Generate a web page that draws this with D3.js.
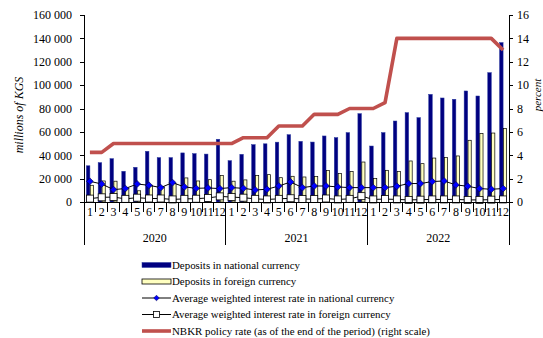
<!DOCTYPE html>
<html lang="en">
<head>
  <meta charset="UTF-8">
  <title>Deposits and interest rates</title>
  <script src="https://d3js.org/d3.v7.min.js"></script>
  <style>
  body { margin: 0; background: #fff; }
  text { font-family: "Liberation Serif", "Times New Roman", serif; fill: #000; }
  .axis path, .axis line { fill: none; stroke: #000; shape-rendering: crispEdges; }
  .axis text { font-size: 12px; }
  .legend text { font-size: 10.9px; }
  </style>
</head>
<body>
  <div class="container"></div>
  <script>
  // data
  var years = ["2020", "2021", "2022"];
  var months = ["1","2","3","4","5","6","7","8","9","10","11","12"];
  var depNational = [31000,33700,37100,26300,29700,43400,38000,38000,42000,41400,41000,53700,
                     35400,40800,49100,49800,51200,57600,51900,51300,56500,55100,59400,75600,
                     47900,59400,69300,76500,72200,92100,89000,87900,95000,90700,110700,136400];
  var depForeign  = [14300,18000,17800,11700,9600,14300,13000,15700,20600,18000,19100,22800,
                     17800,18900,22700,23400,20800,22000,21400,21700,26900,24300,26000,34200,
                     20000,27100,26000,35100,32800,37600,38000,39400,52800,58500,59000,62800];
  var rateNational = [1.77,1.54,1.06,1.15,1.54,1.43,1.23,1.66,1.29,1.17,1.2,1.15,
                      1.23,1.17,1.03,1.09,1.37,1.71,1.23,1.37,1.37,1.29,1.23,1.23,
                      1.23,1.23,1.35,1.58,1.58,1.75,1.8,1.46,1.35,1.15,1.09,1.15];
  var rateForeign = [0.29,0.4,0.42,0.27,0.37,0.3,0.3,0.22,0.27,0.28,0.35,0.48,
                     0.42,0.37,0.27,0.22,0.27,0.32,0.25,0.25,0.3,0.22,0.27,0.5,
                     0.22,0.25,0.22,0.18,0.2,0.22,0.22,0.22,0.18,0.18,0.2,0.22];
  var policyRate = [4.25,4.25,5,5,5,5,5,5,5,5,5,5,
                    5,5.5,5.5,5.5,6.5,6.5,6.5,7.5,7.5,7.5,8,8,
                    8,8.5,14,14,14,14,14,14,14,14,14,13];
  var leftTicks = [0,20000,40000,60000,80000,100000,120000,140000,160000];
  var rightTicks = [0,2,4,6,8,10,12,14,16];
  var legendLabels = ["Deposits in national currency",
                      "Deposits in foreign currency",
                      "Average weighted interest rate in national currency",
                      "Average weighted interest rate in foreign currency",
                      "NBKR policy rate (as of the end of the period) (right scale)"];

  var w = 543, h = 338,
      margin = {top: 15, right: 34, bottom: 136, left: 84};
  var g_w = w - margin.left - margin.right;
  var g_h = h - margin.top - margin.bottom;

  var idx = d3.range(depNational.length);
  var xScale = d3.scaleBand().domain(idx).range([0, g_w]);
  var yLeft = d3.scaleLinear().domain([0, 160000]).range([g_h, 0]);
  var yRight = d3.scaleLinear().domain([0, 16]).range([g_h, 0]);
  var bw = xScale.bandwidth();
  var cx = function(i){ return xScale(i) + bw / 2; };

  var svg = d3.select('.container').append('svg')
      .attr('width', w).attr('height', h);
  var g = svg.append('g')
      .attr('transform', 'translate(' + margin.left + ',' + margin.top + ')');

  // bars
  g.selectAll('.nat').data(depNational).enter().append('rect')
      .attr('x', function(d, i){ return xScale(i) + bw * 0.2; })
      .attr('y', function(d){ return yLeft(d); })
      .attr('width', bw * 0.3)
      .attr('height', function(d){ return g_h - yLeft(d); })
      .attr('fill', '#000080').attr('stroke', '#2a3aa0').attr('stroke-width', 0.5);
  g.selectAll('.for').data(depForeign).enter().append('rect')
      .attr('x', function(d, i){ return xScale(i) + bw * 0.53; })
      .attr('y', function(d){ return yLeft(d); })
      .attr('width', bw * 0.27)
      .attr('height', function(d){ return g_h - yLeft(d); })
      .attr('fill', '#ffffc0').attr('stroke', '#000').attr('stroke-width', 0.7);

  // rate lines
  var lineR = d3.line().x(function(d, i){ return cx(i); }).y(function(d){ return yRight(d); });
  g.append('path').attr('d', lineR(rateNational))
      .attr('fill', 'none').attr('stroke', '#000').attr('stroke-width', 1);
  g.selectAll('.dia').data(rateNational).enter().append('path')
      .attr('d', d3.symbol().type(d3.symbolDiamond2).size(30))
      .attr('transform', function(d, i){ return 'translate(' + cx(i) + ',' + yRight(d) + ')'; })
      .attr('fill', '#0000ff').attr('stroke', '#000040').attr('stroke-width', 0.6);

  g.append('path').attr('d', lineR(rateForeign))
      .attr('fill', 'none').attr('stroke', '#000').attr('stroke-width', 1);
  g.selectAll('.sq').data(rateForeign).enter().append('rect')
      .attr('x', function(d, i){ return cx(i) - 3.5; })
      .attr('y', function(d){ return yRight(d) - 3.5; })
      .attr('width', 7).attr('height', 7)
      .attr('fill', '#fff').attr('stroke', '#000').attr('stroke-width', 0.8);

  g.append('path').attr('d', lineR(policyRate))
      .attr('fill', 'none').attr('stroke', '#c0504d').attr('stroke-width', 3.6)
      .attr('stroke-linejoin', 'round');

  // axes
  var fmt = function(d){ return d3.format(',')(d).replace(/,/g, ' '); };
  g.append('g').attr('class', 'axis')
      .call(d3.axisLeft(yLeft).tickValues(leftTicks).tickFormat(fmt).tickSize(4).tickPadding(8));
  g.append('g').attr('class', 'axis').attr('transform', 'translate(' + g_w + ',0)')
      .call(d3.axisRight(yRight).tickValues(rightTicks).tickSize(4).tickPadding(4));
  g.selectAll('.axis .domain').attr('d', 'M0,0V' + g_h);

  // category axis
  var xa = g.append('g').attr('class', 'axis').attr('transform', 'translate(0,' + g_h + ')');
  xa.append('line').attr('x1', 0).attr('x2', g_w).attr('y1', 0).attr('y2', 0);
  idx.forEach(function(i){
    var isYear = i % 12 === 0;
    xa.append('line').attr('x1', xScale(i)).attr('x2', xScale(i))
        .attr('y1', 0).attr('y2', isYear ? 43 : 10);
    xa.append('text').attr('x', cx(i)).attr('y', 14).attr('text-anchor', 'middle')
        .text(months[i % 12]);
  });
  xa.append('line').attr('x1', g_w).attr('x2', g_w).attr('y1', 0).attr('y2', 43);
  years.forEach(function(y, k){
    var x0 = xScale(k * 12), x1 = xScale(k * 12 + 11) + bw;
    xa.append('text').attr('x', (x0 + x1) / 2).attr('y', 40).attr('text-anchor', 'middle').text(y);
  });

  // axis titles
  svg.append('text').attr('transform', 'translate(23,115) rotate(-90)')
      .attr('text-anchor', 'middle').style('font-style', 'italic').style('font-size', '12px')
      .text('millions of KGS');
  svg.append('text').attr('transform', 'translate(541,95) rotate(-90)')
      .attr('text-anchor', 'middle').style('font-style', 'italic').style('font-size', '11px')
      .text('percent');

  // legend
  var lg = svg.append('g').attr('class', 'legend').attr('transform', 'translate(142,265)');
  legendLabels.forEach(function(t, k){
    var row = lg.append('g').attr('transform', 'translate(0,' + (k * 16.5) + ')');
    if (k === 0) row.append('rect').attr('x', 0).attr('y', -2.5).attr('width', 29).attr('height', 5)
        .attr('fill', '#000080').attr('stroke', '#2a3aa0').attr('stroke-width', 0.5);
    if (k === 1) row.append('rect').attr('x', 0).attr('y', -2.5).attr('width', 29).attr('height', 5)
        .attr('fill', '#ffffc0').attr('stroke', '#000').attr('stroke-width', 0.8);
    if (k === 2 || k === 3) row.append('line').attr('x1', 0).attr('x2', 29).attr('y1', 0).attr('y2', 0)
        .attr('stroke', '#000').attr('stroke-width', 1);
    if (k === 2) row.append('path').attr('d', d3.symbol().type(d3.symbolDiamond2).size(20))
        .attr('transform', 'translate(14.5,0)').attr('fill', '#0000ff').attr('stroke', '#000040').attr('stroke-width', 0.5);
    if (k === 3) row.append('rect').attr('x', 11.5).attr('y', -3).attr('width', 6).attr('height', 6)
        .attr('fill', '#fff').attr('stroke', '#000').attr('stroke-width', 0.8);
    if (k === 4) row.append('line').attr('x1', 0).attr('x2', 29).attr('y1', 0).attr('y2', 0)
        .attr('stroke', '#c0504d').attr('stroke-width', 3.6);
    row.append('text').attr('x', 30).attr('y', 3.5).text(t);
  });
  </script>
</body>
</html>
